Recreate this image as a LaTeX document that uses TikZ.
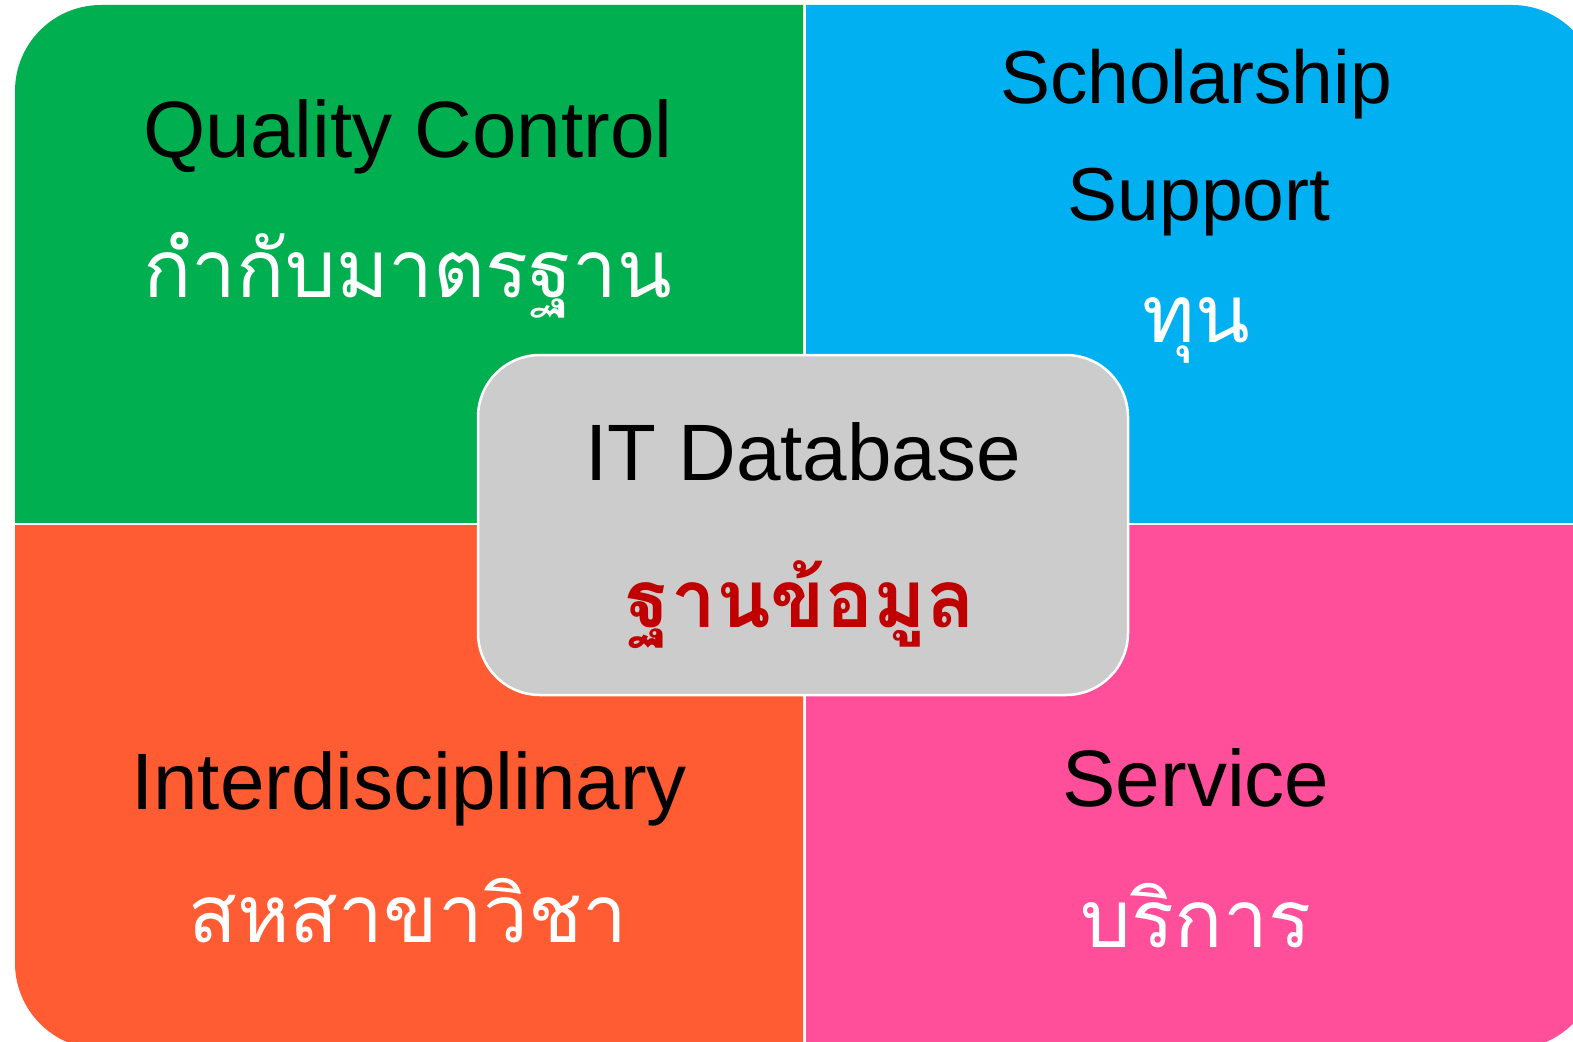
\documentclass[tikz,border=0pt]{standalone}
\usepackage{fontspec}
\setmainfont{Liberation Sans}
\newfontfamily\thaifont[Script=Thai]{Loma}
\definecolor{qgreen}{RGB}{0,175,80}
\definecolor{qblue}{RGB}{0,176,240}
\definecolor{qorange}{RGB}{255,92,51}
\definecolor{qpink}{RGB}{255,79,155}
\definecolor{dbgray}{RGB}{204,204,204}
\definecolor{dbred}{RGB}{192,0,0}
\tikzset{
    entxt/.style={inner sep=0pt,anchor=base,font=\fontsize{80}{90}\selectfont},
    thtxt/.style={inner sep=0pt,anchor=base,text=white,font=\thaifont\fontsize{80}{90}\selectfont}
}
\begin{document}
\begin{tikzpicture}[x=1pt,y=-1pt]
        \useasboundingbox(0,0)rectangle(1573,1041);
        \clip(0,0)rectangle(1573,1041);
        % four quarters of one rounded frame
        \foreach \col/\xa/\ya/\xb/\yb in {qgreen/0/0/803/522,qblue/806/0/1573/522,qorange/0/525/803/1041,qpink/806/525/1573/1041}
            {
                \begin{scope}
                    \clip(\xa,\ya)rectangle(\xb,\yb);
                    \fill[\col,rounded corners=86pt](15,5)rectangle(1598,1049);
                \end{scope}
            }
        % centre box
        \node[draw=white,line width=2.5pt,fill=dbgray,rounded corners=62pt,minimum width=650pt,minimum height=340pt](db)at(803,525){};
        \node[entxt](qc)at(408,157){Quality Control};
        \node[thtxt](qcth)at(408,297){กำกับมาตรฐาน};
        \node[entxt,font=\fontsize{75}{85}\selectfont](sch)at(1196,103){Scholarship};
        \node[entxt,font=\fontsize{75}{85}\selectfont](sup)at(1199,220){Support};
        \node[thtxt](supth)at(1196,342){ทุน};
        \node[entxt](it)at(803,480){IT Database};
        \node[thtxt,text=dbred,font=\thaifont\bfseries\fontsize{80}{90}\selectfont](itth)at(801,627){ฐานข้อมูล};
        \node[entxt](inter)at(409,809){Interdisciplinary};
        \node[thtxt](interth)at(408,942){สหสาขาวิชา};
        \node[entxt](serv)at(1196,806){Service};
        \node[thtxt](servth)at(1196,947){บริการ};
    \end{tikzpicture}
\end{document}
